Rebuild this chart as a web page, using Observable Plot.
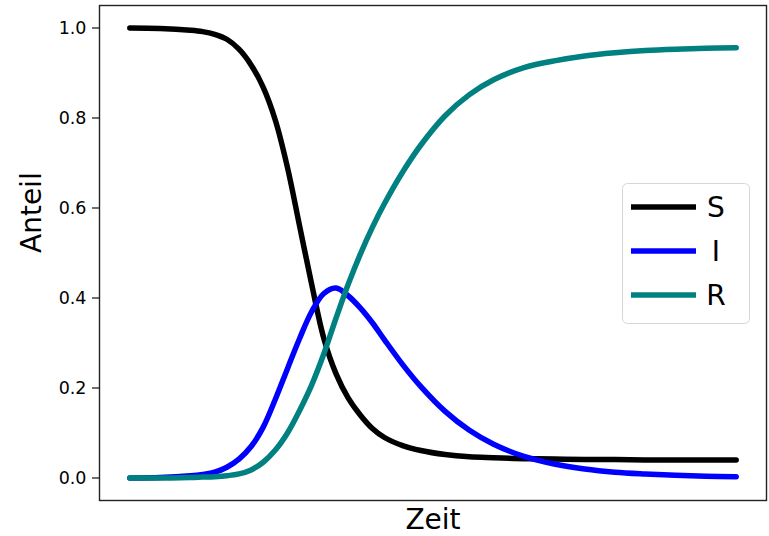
<!DOCTYPE html>
<html>
<head>
<meta charset="utf-8">
<script src="https://cdn.jsdelivr.net/npm/d3@7"></script>
<script src="https://cdn.jsdelivr.net/npm/@observablehq/plot@0.6"></script>
<style>
  html, body { margin: 0; padding: 0; background: #fff; }
  #chart { width: 769px; height: 536px; }
</style>
</head>
<body>
<div id="chart"></div>
<script>
// Time steps (arbitrary units, no tick labels in the original)
const time = [0, 5, 10, 12, 14, 16, 18, 20, 22, 24, 26, 28, 30, 32, 34, 36, 38, 40, 42, 45, 48, 52, 56, 60, 65, 70, 75, 80, 85, 90, 95, 100];
// Susceptible share
const S = [1.0, 0.999, 0.995, 0.992, 0.986, 0.975, 0.953, 0.918, 0.868, 0.795, 0.69, 0.56, 0.43, 0.31, 0.232, 0.178, 0.14, 0.11, 0.09, 0.072, 0.061, 0.052, 0.047, 0.045, 0.043, 0.042, 0.041, 0.041, 0.04, 0.04, 0.04, 0.04];
// Infected share
const I = [0.0, 0.001, 0.005, 0.008, 0.013, 0.024, 0.042, 0.07, 0.113, 0.175, 0.243, 0.31, 0.37, 0.41, 0.422, 0.405, 0.378, 0.345, 0.307, 0.252, 0.203, 0.148, 0.106, 0.075, 0.048, 0.031, 0.02, 0.013, 0.009, 0.006, 0.004, 0.003];
// Recovered share
const R = [0.0, 0.0, 0.001, 0.002, 0.003, 0.005, 0.009, 0.018, 0.035, 0.062, 0.1, 0.15, 0.207, 0.276, 0.355, 0.43, 0.497, 0.557, 0.61, 0.68, 0.74, 0.805, 0.852, 0.885, 0.912, 0.927, 0.938, 0.945, 0.95, 0.953, 0.955, 0.956];

const seriesNames = ["S", "I", "R"];
const seriesColors = ["#000000", "#0000ff", "#008080"];
const seriesValues = [S, I, R];
const yTicks = [0, 0.2, 0.4, 0.6, 0.8, 1.0];

const rows = [];
seriesNames.forEach((name, k) => {
  time.forEach((t, i) => rows.push({t, v: seriesValues[k][i], series: name}));
});

const W = 769, H = 536;
const chart = Plot.plot({
  width: W,
  height: H,
  marginLeft: 99,
  marginRight: 3,
  marginTop: 5,
  marginBottom: 36,
  style: {fontFamily: "DejaVu Sans", background: "#fff", color: "#000"},
  x: {domain: [-5, 105], axis: null},
  y: {domain: [-0.05, 1.05], axis: null},
  color: {domain: seriesNames, range: seriesColors},
  marks: [
    Plot.line(rows, {x: "t", y: "v", stroke: "series", z: "series", strokeWidth: 5.5, curve: "catmull-rom"}),
    Plot.frame({stroke: "#222", strokeWidth: 1.4}),
    Plot.axisY({ticks: yTicks, tickFormat: d3.format(".1f"), tickSize: 7, tickPadding: 6, fontSize: 17.5, stroke: "#222", strokeWidth: 1.3, label: null}),
    Plot.text(["Anteil"], {frameAnchor: "left", dx: -67, rotate: -90, fontSize: 28, fill: "#000"}),
    Plot.text(["Zeit"], {frameAnchor: "bottom", dy: 28, fontSize: 28, fill: "#000"})
  ]
});

// Legend (inside the axes, right side)
const svg = d3.select(chart);
const lg = svg.append("g").attr("font-family", "DejaVu Sans");
lg.append("rect")
  .attr("x", 622.5).attr("y", 183.5).attr("width", 127).attr("height", 140)
  .attr("rx", 5).attr("fill", "#fff").attr("fill-opacity", 0.8)
  .attr("stroke", "#d6d6d6").attr("stroke-width", 1);
seriesNames.forEach((name, k) => {
  const yy = 207 + k * 44;
  lg.append("line").attr("x1", 631).attr("x2", 696).attr("y1", yy).attr("y2", yy)
    .attr("stroke", seriesColors[k]).attr("stroke-width", 5.5);
  lg.append("text").attr("x", 716).attr("y", yy).attr("dy", "0.36em")
    .attr("font-size", 28).attr("fill", "#000").text(name);
});

document.getElementById("chart").appendChild(chart);
</script>
</body>
</html>
